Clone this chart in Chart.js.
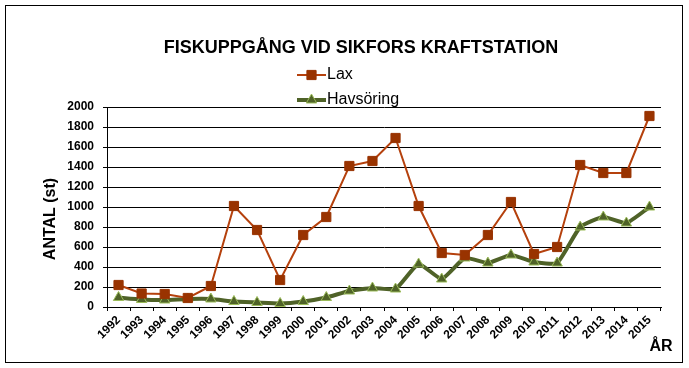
<!DOCTYPE html>
<html lang="sv">
<head>
<meta charset="UTF-8">
<title>Fiskuppgång vid Sikfors kraftstation</title>
<script src="https://cdn.jsdelivr.net/npm/chart.js"></script>
<style>
  body { margin: 0; background: #fff; }
  #wrap { width: 689px; height: 368px; position: relative; }
</style>
</head>
<body>
<div id="wrap"><canvas id="fishChart" width="689" height="368"></canvas></div>
<script>
const years = ['1992','1993','1994','1995','1996','1997','1998','1999','2000','2001','2002','2003',
               '2004','2005','2006','2007','2008','2009','2010','2011','2012','2013','2014','2015'];
const lax = [220, 135, 130, 90, 210, 1010, 770, 270, 720, 900, 1410, 1460,
             1690, 1010, 540, 520, 720, 1050, 530, 600, 1420, 1340, 1340, 1910];
const havsoring = [95, 75, 70, 80, 80, 55, 45, 35, 55, 95, 160, 190,
                   180, 430, 280, 490, 440, 520, 450, 440, 800, 900, 840, 1000];
const chartTitle = 'FISKUPPGÅNG VID SIKFORS KRAFTSTATION';
const yTitle = 'ANTAL (st)';
const xTitle = 'ÅR';

const FONT = 'Arial, "Liberation Sans", sans-serif';

// title, legend, axis titles and outer frame
const decorations = {
  id: 'decorations',
  afterDraw(chart) {
    const ctx = chart.ctx;
    ctx.save();
    ctx.strokeStyle = '#000';
    ctx.lineWidth = 1;
    ctx.strokeRect(5.5, 5.5, 677, 357);

    ctx.fillStyle = '#000';
    ctx.font = 'bold 18px ' + FONT;
    ctx.textAlign = 'center';
    ctx.textBaseline = 'middle';
    ctx.fillText(chartTitle, 361, 48);

    // legend
    chart.data.datasets.forEach((ds, i) => {
      const y = 75 + i * 25;
      ctx.strokeStyle = ds.borderColor;
      ctx.lineWidth = ds.borderWidth;
      ctx.beginPath();
      ctx.moveTo(297, y);
      ctx.lineTo(326, y);
      ctx.stroke();
      ctx.fillStyle = ds.pointBackgroundColor;
      ctx.strokeStyle = ds.pointBorderColor;
      ctx.lineWidth = ds.pointBorderWidth;
      Chart.helpers.drawPoint(ctx, {
        pointStyle: ds.pointStyle,
        radius: ds.pointRadius,
        borderWidth: ds.pointBorderWidth
      }, 311.5, y);
      ctx.fillStyle = '#000';
      ctx.font = '16px ' + FONT;
      ctx.textAlign = 'left';
      ctx.textBaseline = 'middle';
      ctx.fillText(ds.label, 327, y);
    });

    // y axis title
    ctx.save();
    ctx.translate(51, 219);
    ctx.rotate(-Math.PI / 2);
    ctx.font = 'bold 16px ' + FONT;
    ctx.textAlign = 'center';
    ctx.textBaseline = 'middle';
    ctx.fillText(yTitle, 0, 0);
    ctx.restore();

    // x axis title
    ctx.font = 'bold 16px ' + FONT;
    ctx.textAlign = 'center';
    ctx.textBaseline = 'middle';
    ctx.fillText(xTitle, 661, 347);
    ctx.restore();
  }
};

new Chart(document.getElementById('fishChart'), {
  type: 'line',
  data: {
    labels: years,
    datasets: [
      {
        label: 'Lax',
        data: lax,
        borderColor: '#b5410d',
        borderWidth: 2,
        pointStyle: 'rect',
        pointRadius: 6.5,
        pointBackgroundColor: '#993300',
        pointBorderColor: '#993300',
        pointBorderWidth: 1,
        tension: 0
      },
      {
        label: 'Havsöring',
        data: havsoring,
        borderColor: '#4f6228',
        borderWidth: 4,
        pointStyle: 'triangle',
        pointRadius: 6,
        pointBackgroundColor: '#4f6228',
        pointBorderColor: '#9bbb59',
        pointBorderWidth: 1,
        tension: 0.15
      }
    ]
  },
  options: {
    responsive: false,
    animation: false,
    layout: { padding: { left: 0, right: 28, top: 107, bottom: 0 } },
    plugins: {
      legend: { display: false },
      title: { display: false },
      tooltip: { enabled: false }
    },
    scales: {
      x: {
        offset: true,
        afterFit(scale) { scale.height = 61; },
        grid: {
          offset: true,
          drawOnChartArea: false,
          drawTicks: true,
          tickLength: 4,
          color: '#000'
        },
        border: { display: true, color: '#000', width: 1 },
        ticks: {
          autoSkip: false,
          minRotation: 45,
          maxRotation: 45,
          padding: 2,
          color: '#000',
          font: { family: FONT, size: 12, weight: 'bold' }
        }
      },
      y: {
        min: 0,
        max: 2000,
        afterFit(scale) { scale.width = 107; },
        grid: {
          color: '#000',
          lineWidth: 1,
          drawTicks: true,
          tickLength: 4
        },
        border: { display: true, color: '#000', width: 1 },
        ticks: {
          stepSize: 200,
          padding: 9,
          color: '#000',
          font: { family: FONT, size: 12, weight: 'bold' },
          callback: v => String(v)
        }
      }
    }
  },
  plugins: [decorations]
});
</script>
</body>
</html>
